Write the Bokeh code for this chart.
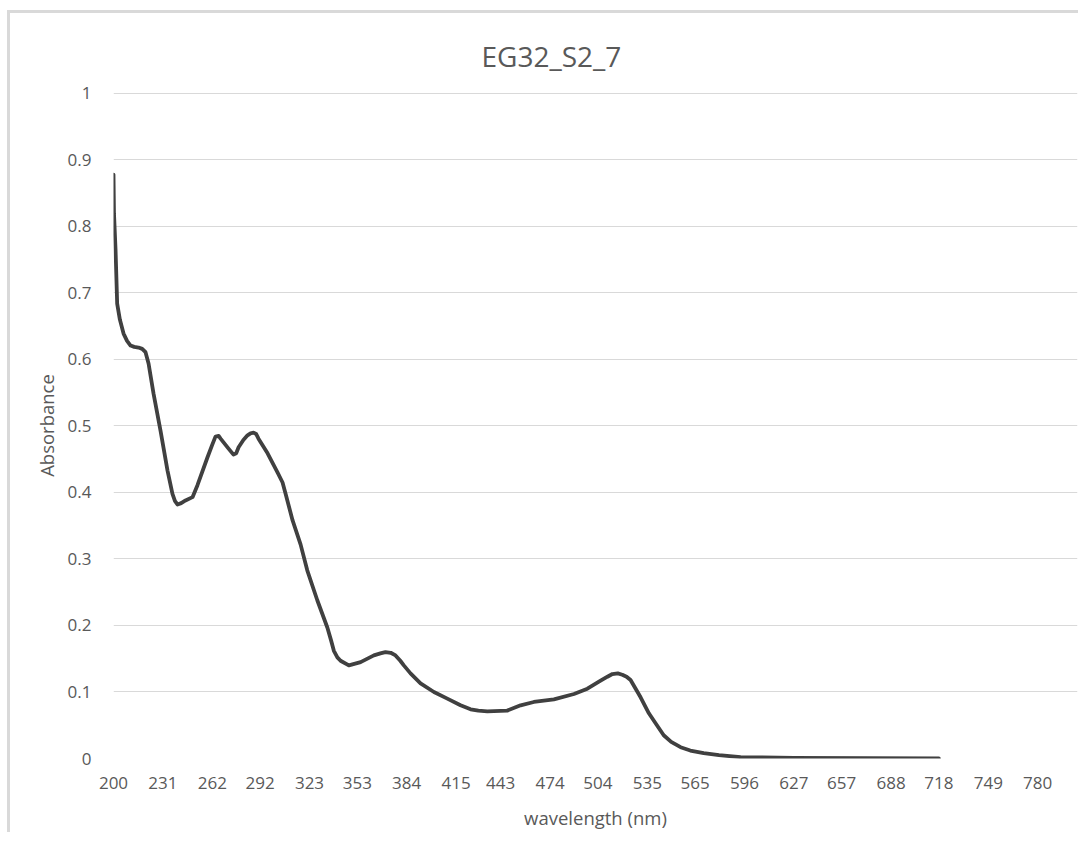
from bokeh.plotting import figure
from bokeh.models import Range1d, FixedTicker, ColumnDataSource
from bokeh.embed import file_html
from bokeh.resources import INLINE

# ---- data ----
wavelength = [200, 200.3, 201.3, 202.3, 204, 206.3, 208.5, 210.7, 213.0, 215.7,
              218.0, 220.1, 222.0, 225.1, 229.5, 233.9, 237.0, 238.6, 240.2, 242.5,
              245.2, 249.6, 252.7, 259.0, 262.0, 264.0, 266.0, 267.2, 272.2, 275.3,
              277.0, 278.5, 281.5, 284.1, 286.0, 287.9, 289.5, 291.0, 296.7, 303.0,
              306.1, 308.0, 312.4, 317.4, 321.6, 327.9, 334.2, 336.5, 338.3, 340.5,
              342.5, 347.7, 355.1, 363.4, 367.5, 370.7, 374.0, 377.0, 380.0, 382.2,
              386.4, 392.7, 401.1, 409.5, 417.8, 424.1, 429.0, 434.6, 447.1, 455.5,
              463.8, 476.4, 489.0, 497.4, 505.7, 510.0, 513.1, 516.5, 519.3, 522.0,
              524.5, 530.8, 536.0, 540.2, 545.3, 550.0, 555.9, 562.0, 570.4, 580.0,
              593.6, 626.9, 673.3, 718.0]
absorbance = [0.878, 0.82, 0.764, 0.684, 0.66, 0.639, 0.628, 0.621, 0.619, 0.618,
              0.616, 0.611, 0.594, 0.549, 0.493, 0.433, 0.398, 0.387, 0.382, 0.384,
              0.388, 0.393, 0.411, 0.453, 0.472, 0.484, 0.485, 0.481, 0.466, 0.457,
              0.459, 0.468, 0.479, 0.486, 0.489, 0.490, 0.488, 0.481, 0.459, 0.430,
              0.415, 0.398, 0.358, 0.322, 0.283, 0.238, 0.197, 0.178, 0.162, 0.152,
              0.147, 0.140, 0.145, 0.155, 0.158, 0.160, 0.159, 0.155, 0.147, 0.140,
              0.128, 0.113, 0.100, 0.090, 0.080, 0.074, 0.072, 0.071, 0.072, 0.080,
              0.085, 0.089, 0.097, 0.105, 0.117, 0.123, 0.127, 0.128, 0.126, 0.123,
              0.118, 0.092, 0.068, 0.053, 0.035, 0.025, 0.017, 0.012, 0.008, 0.005,
              0.002, 0.001, 0.0005, 0.0]
x_ticks = [200, 231, 262, 292, 323, 353, 384, 415, 443, 474, 504, 535, 565,
           596, 627, 657, 688, 718, 749, 780]
y_ticks = [0, 0.1, 0.2, 0.3, 0.4, 0.5, 0.6, 0.7, 0.8, 0.9, 1]

FONT = "Open Sans"
GREY = "#595959"

src = ColumnDataSource(dict(x=wavelength, y=absorbance))

p = figure(width=1076, height=837, output_backend="svg", toolbar_location=None,
           title="EG32_S2_7",
           x_range=Range1d(200, 805), y_range=Range1d(0, 1.0015),
           min_border_left=103, min_border_right=1, min_border_top=79,
           min_border_bottom=10,
           frame_width=964, frame_height=666)
p.styles = {"border-top": "3px solid #d9d9d9", "border-left": "3px solid #d9d9d9",
            "margin-top": "10px", "margin-left": "7px"}

p.line("x", "y", source=src, line_color="#404040", line_width=3.8,
       line_join="round", line_cap="round")

p.title.align = "left"
p.title.text_font = FONT
p.title.text_font_size = "28px"
p.title.text_font_style = "normal"
p.title.text_color = GREY
p.title.offset = 368
p.title.standoff = 36

p.outline_line_color = None
p.background_fill_color = "white"
p.border_fill_color = "white"

p.xaxis.ticker = FixedTicker(ticks=x_ticks)
p.yaxis.ticker = FixedTicker(ticks=y_ticks)
p.yaxis.major_label_overrides = {0: "0", 1: "1"}
for ax in (p.xaxis, p.yaxis):
    ax.axis_line_color = None
    ax.major_tick_line_color = None
    ax.minor_tick_line_color = None
    ax.major_label_text_font = FONT
    ax.major_label_text_font_size = "17px"
    ax.major_label_text_color = GREY
    ax.axis_label_text_font = FONT
    ax.axis_label_text_font_size = "18.5px"
    ax.axis_label_text_font_style = "normal"
    ax.axis_label_text_color = GREY

p.xaxis.axis_label = "wavelength (nm)"
p.yaxis.axis_label = "Absorbance"
p.xaxis.major_label_standoff = 12
p.xaxis.axis_label_standoff = 13
p.yaxis.major_label_standoff = 16
p.yaxis.axis_label_standoff = 6

p.xgrid.grid_line_color = None
p.ygrid.grid_line_color = "#d9d9d9"
p.ygrid.grid_line_width = 1

open("out.html", "w").write(file_html(p, INLINE))
